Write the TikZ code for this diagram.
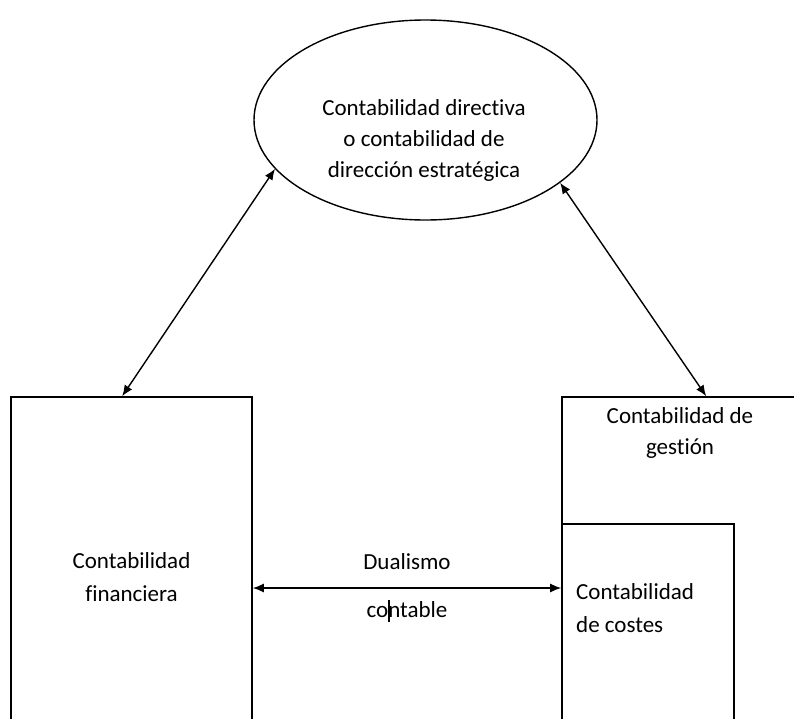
\documentclass[tikz,border=0pt]{standalone}
\usepackage{fontspec}
\setmainfont{Carlito}[Ligatures=NoCommon]
\usetikzlibrary{shapes.geometric,arrows.meta,calc}
\tikzset{
  frame/.style={draw=black, line width=1.6pt, rectangle, inner sep=0pt},
  oval/.style={draw=black, line width=1.4pt, ellipse, inner sep=0pt},
  lbl/.style={font=\fontsize{23}{31}\selectfont, align=center, inner sep=0pt, text=black},
  twoway/.style={line width=1.4pt, {Latex[length=11pt,width=9pt]}-{Latex[length=11pt,width=9pt]}},
}
\begin{document}
\begin{tikzpicture}[x=1pt,y=-1pt]
  \useasboundingbox (0,0) rectangle (794,718);
  \clip (0,0) rectangle (794,718);

  % strategic management accounting
  \node[oval, minimum width=343pt, minimum height=200pt] (dir) at (425.5,120) {};
  \node[lbl] (dirtxt) at (424,140) {Contabilidad directiva\\o contabilidad de\\dirección estratégica};

  % financial accounting
  \node[frame, minimum width=241pt, minimum height=363pt] (fin) at (131.5,578.5)
    {\fontsize{23}{33}\selectfont\begin{tabular}{@{}c@{}}Contabilidad\\financiera\end{tabular}};

  % management accounting (runs past the right and bottom edges)
  \node[frame, minimum width=300pt, minimum height=363pt] (gest) at (712,578.5) {};
  \node[lbl] (gesttxt) at (680,433) {Contabilidad de\\gestión};

  % cost accounting, nested in the lower left of management accounting
  \node[frame, minimum width=172pt, minimum height=236pt] (cost) at (648,642) {};
  \node[lbl, align=left, anchor=west, font=\fontsize{23}{33}\selectfont] (costtxt) at (576,608.5) {Contabilidad\\de costes};

  % accounting dualism
  \coordinate (dual) at (407,588);
  \node[lbl] (dualtop) at (407,562) {Dualismo};
  \node[lbl] (dualbot) at (407,610) {contable};
  \draw[line width=2.4pt, black] (389,600) -- (389,622);

  % connectors
  \draw[twoway] (dir.198.2) -- ($(fin.north west)+(112,0)$);
  \draw[twoway] (dir.335.7) -- ($(gest.north west)+(145,0)$);
  \draw[twoway] (fin.east |- dual) -- (cost.west |- dual);
\end{tikzpicture}
\end{document}
